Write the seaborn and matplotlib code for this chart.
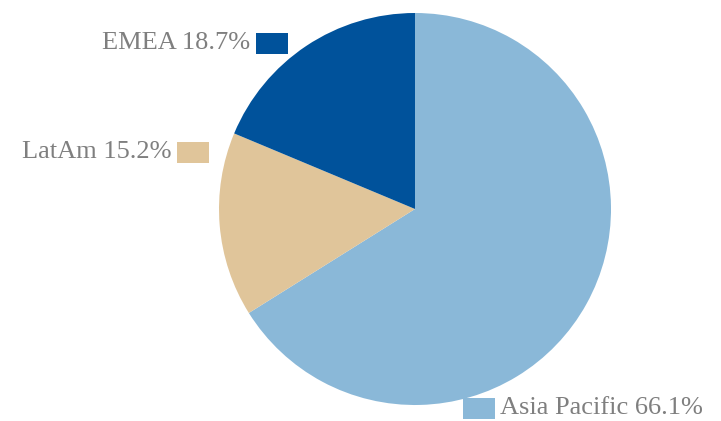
import matplotlib
matplotlib.use("Agg")
import matplotlib.pyplot as plt
import seaborn as sns
from matplotlib.patches import Rectangle

# dati del grafico
regioni = ["Asia Pacific", "LatAm", "EMEA"]
quote = [66.1, 15.2, 18.7]
colori = ["#8AB8D8", "#E0C59A", "#00529B"]

sns.set_style("white")
plt.rcParams["font.family"] = ["Liberation Serif", "DejaVu Serif"]

W, H = 721, 421
fig = plt.figure(figsize=(W / 100, H / 100), dpi=100)

# asse della torta: centro (415, 209), raggio 196 px
cx, cy, r = 415, 209, 196
ax = fig.add_axes([(cx - r) / W, (H - cy - r) / H, 2 * r / W, 2 * r / H])
ax.pie(quote, colors=colori, startangle=90, counterclock=False, radius=1,
       wedgeprops=dict(linewidth=0))
ax.set_xlim(-1, 1)
ax.set_ylim(-1, 1)
ax.set_aspect("equal")
ax.axis("off")

# etichette con quadratino colorato (posizioni in pixel)
etichette = {
    "EMEA": dict(testo_x=250, y=43, ha="right", box_x=256),
    "LatAm": dict(testo_x=172, y=152, ha="right", box_x=177),
    "Asia Pacific": dict(testo_x=500, y=408, ha="left", box_x=463),
}
for nome, quota, col in zip(regioni, quote, colori):
    e = etichette[nome]
    fig.text(e["testo_x"] / W, 1 - e["y"] / H, f"{nome} {quota:.1f}%",
             ha=e["ha"], va="center", fontsize=19, color="#7f7f7f")
    fig.patches.append(Rectangle((e["box_x"] / W, 1 - (e["y"] + 11) / H),
                                 32 / W, 21 / H, transform=fig.transFigure,
                                 facecolor=col, edgecolor="none"))

fig.savefig("out.png", dpi=100)
